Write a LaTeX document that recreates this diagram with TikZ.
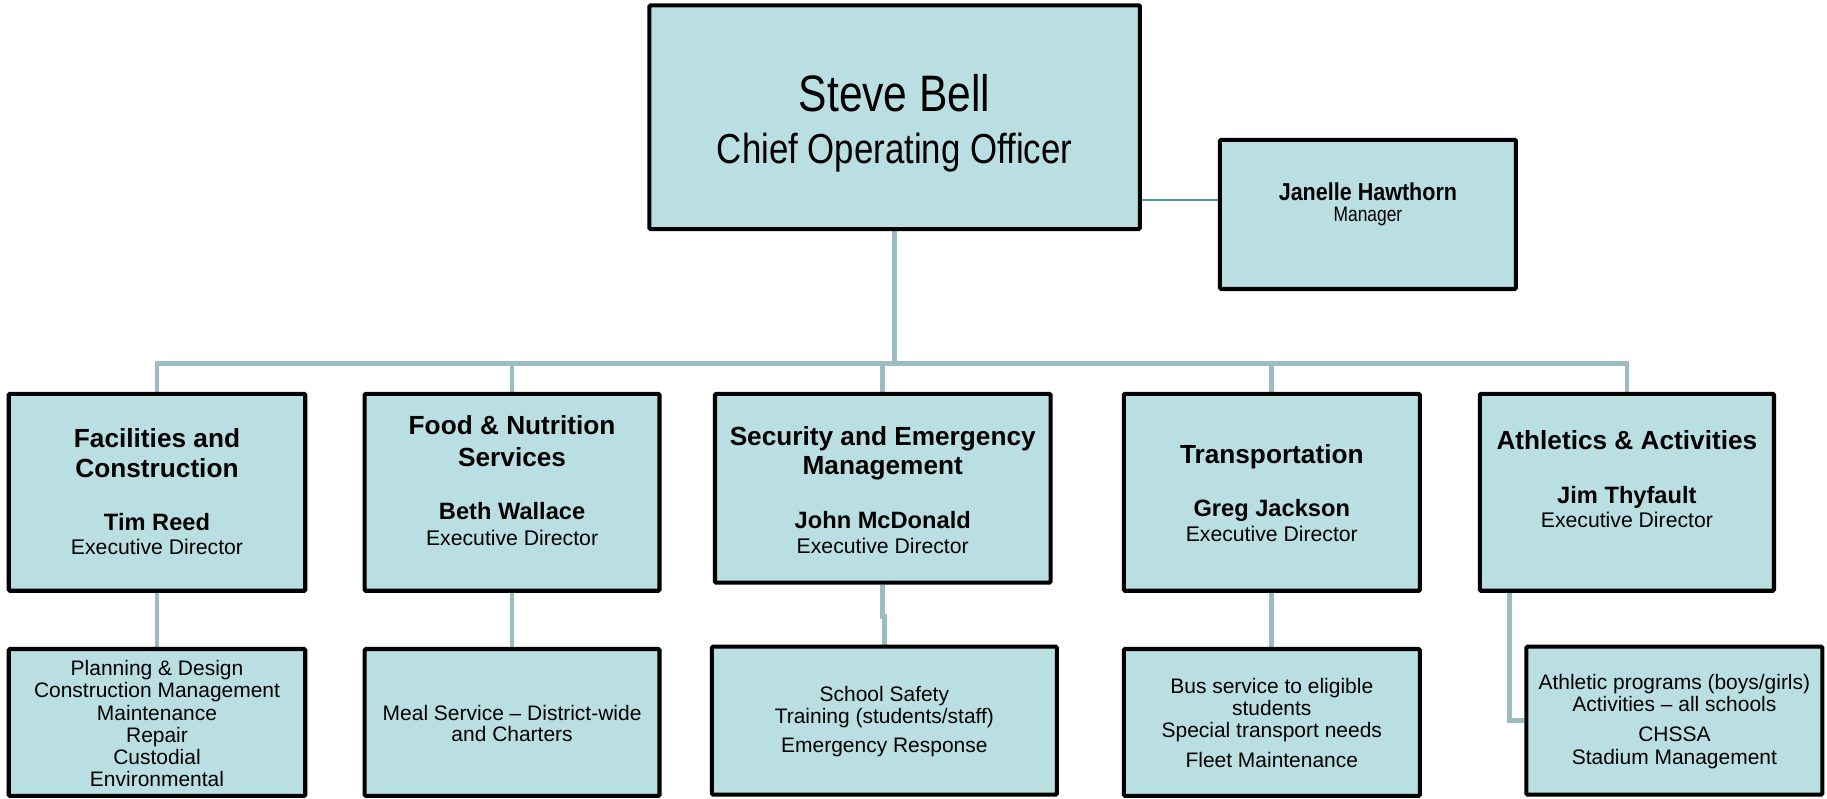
\documentclass[tikz,border=0pt]{standalone}
\usepackage{fontspec}
\setmainfont{Liberation Sans}
\newfontfamily\narrowf[FakeStretch=0.83]{Liberation Sans}
\newfontfamily\narrowbf[FakeStretch=0.88]{Liberation Sans}
\definecolor{boxfill}{RGB}{186,223,226}
\definecolor{linec}{RGB}{155,188,192}
\definecolor{jlinec}{RGB}{80,150,160}
\pgfdeclarelayer{paper}
\pgfdeclarelayer{bg}
\pgfsetlayers{paper,bg,main}
\begin{document}
\begin{tikzpicture}[x=1pt,y=-1pt,
  box/.style={draw=black, line width=3.5pt, fill=boxfill, rounded corners=1pt, inner sep=0pt},
  conn/.style={draw=linec, line width=4pt, line join=miter},
  jconn/.style={draw=jlinec, line width=1.5pt},
  txt/.style={anchor=base, inner sep=0pt, text=black},
  ceo/.style={txt, font=\narrowf\fontsize{44}{44}\selectfont},
  ceotitle/.style={txt, font=\narrowf\fontsize{36}{36}\selectfont},
  jname/.style={txt, font=\narrowbf\bfseries\fontsize{21}{21}\selectfont},
  jrole/.style={txt, font=\narrowf\fontsize{18}{18}\selectfont},
  head/.style={txt, font=\bfseries\fontsize{22.5}{22.5}\selectfont},
  pname/.style={txt, font=\bfseries\fontsize{20.3}{20.3}\selectfont},
  prole/.style={txt, font=\fontsize{18.2}{18.2}\selectfont},
  subtxt/.style={txt, font=\fontsize{18}{18}\selectfont}
]
\begin{pgfonlayer}{paper}
  \fill[white] (0,0) rectangle (1568,685);
\end{pgfonlayer}
\useasboundingbox (0,0) rectangle (1568,685);

% ---- boxes ----
\node[box, minimum width=421, minimum height=192] (top) at (767.8,100.6) {};
\node[box, minimum width=254, minimum height=128] (jan) at (1174,184) {};

\node[box, minimum width=254.5, minimum height=169] (fac) at (134.75,422.5) {};
\node[box, minimum width=253, minimum height=169] (food) at (439.5,422.5) {};
\node[box, minimum width=288, minimum height=162] (sec) at (757.6,419) {};
\node[box, minimum width=254, minimum height=169] (tra) at (1091.5,422.5) {};
\node[box, minimum width=252.5, minimum height=169] (ath) at (1396.25,422.5) {};

\node[box, minimum width=254.5, minimum height=126] (facsub) at (134.75,620) {};
\node[box, minimum width=253, minimum height=126] (foodsub) at (439.5,620) {};
\node[box, minimum width=296, minimum height=127] (secsub) at (759,618.5) {};
\node[box, minimum width=254, minimum height=126] (trasub) at (1091.5,620) {};
\node[box, minimum width=254, minimum height=127] (athsub) at (1437,618.5) {};

% ---- texts ----
\node[ceo] (top-1) at (767.8,96) {Steve Bell};
\node[ceotitle] (top-2) at (767.8,140) {Chief Operating Officer};

\node[jname] (jan-1) at (1174,172) {Janelle Hawthorn};
\node[jrole] (jan-2) at (1174,190) {Manager};

\node[head] (fac-1) at (134.75,384) {Facilities and};
\node[head] (fac-2) at (134.75,410) {Construction};
\node[pname] (fac-3) at (134.75,455) {Tim Reed};
\node[prole] (fac-4) at (134.75,476) {Executive Director};

\node[head] (food-1) at (439.5,373) {Food \& Nutrition};
\node[head] (food-2) at (439.5,400) {Services};
\node[pname] (food-3) at (439.5,446) {Beth Wallace};
\node[prole] (food-4) at (439.5,468) {Executive Director};

\node[head] (sec-1) at (757.6,382) {Security and Emergency};
\node[head] (sec-2) at (757.6,407.6) {Management};
\node[pname] (sec-3) at (757.6,454) {John McDonald};
\node[prole] (sec-4) at (757.6,475) {Executive Director};

\node[head] (tra-1) at (1091.5,397.6) {Transportation};
\node[pname] (tra-2) at (1091.5,443.4) {Greg Jackson};
\node[prole] (tra-3) at (1091.5,465) {Executive Director};

\node[head] (ath-1) at (1396.25,386) {Athletics \& Activities};
\node[pname] (ath-2) at (1396.25,432) {Jim Thyfault};
\node[prole] (ath-3) at (1396.25,453) {Executive Director};

\node[subtxt] (facsub-1) at (134.75,580) {Planning \& Design};
\node[subtxt] (facsub-2) at (134.75,599) {Construction Management};
\node[subtxt] (facsub-3) at (134.75,618) {Maintenance};
\node[subtxt] (facsub-4) at (134.75,637) {Repair};
\node[subtxt] (facsub-5) at (134.75,656) {Custodial};
\node[subtxt] (facsub-6) at (134.75,675) {Environmental};

\node[subtxt] (foodsub-1) at (439.5,618) {Meal Service – District-wide};
\node[subtxt] (foodsub-2) at (439.5,636) {and Charters};

\node[subtxt] (secsub-1) at (759,602) {School Safety};
\node[subtxt] (secsub-2) at (759,620.6) {Training (students/staff)};
\node[subtxt] (secsub-3) at (759,646) {Emergency Response};

\node[subtxt] (trasub-1) at (1091.5,595.6) {Bus service to eligible};
\node[subtxt] (trasub-2) at (1091.5,614) {students};
\node[subtxt] (trasub-3) at (1091.5,633) {Special transport needs};
\node[subtxt] (trasub-4) at (1091.5,659) {Fleet Maintenance};

\node[subtxt] (athsub-1) at (1437,592) {Athletic programs (boys/girls)};
\node[subtxt] (athsub-2) at (1437,611) {Activities – all schools};
\node[subtxt] (athsub-3) at (1437,636.5) {CHSSA};
\node[subtxt] (athsub-4) at (1437,656) {Stadium Management};

% ---- connectors ----
\coordinate (bus) at (0,311.7);
\coordinate (jc) at (0,171.6);
\coordinate (secjog) at (0,529);
\coordinate (athdrop) at (1295.6,500);

\begin{pgfonlayer}{bg}
  \draw[jconn] (top.east |- jc) -- (jan.west |- jc);
  \draw[conn] (top.south) -- (top.south |- bus);
  \draw[conn] (fac.north) -- (fac.north |- bus) -- (ath.north |- bus) -- (ath.north);
  \draw[conn] (food.north) -- (food.north |- bus);
  \draw[conn] (sec.north) -- (sec.north |- bus);
  \draw[conn] (tra.north) -- (tra.north |- bus);
  \draw[conn] (fac.south) -- (facsub.north);
  \draw[conn] (food.south) -- (foodsub.north);
  \draw[conn] (sec.south) -- (sec.south |- secjog) -- (secsub.north |- secjog) -- (secsub.north);
  \draw[conn] (tra.south) -- (trasub.north);
  \draw[conn] (athdrop) |- (athsub.west);
\end{pgfonlayer}
\end{tikzpicture}
\end{document}
